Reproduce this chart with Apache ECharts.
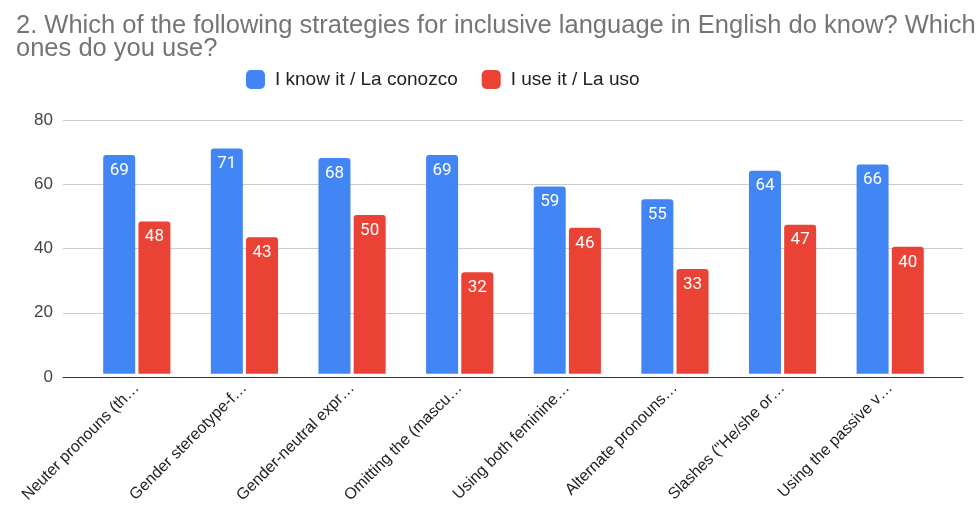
<!DOCTYPE html>
<html>
<head>
<meta charset="utf-8">
<script src="https://cdn.jsdelivr.net/npm/echarts@6/dist/echarts.min.js"></script>
<style>
  html, body { margin: 0; padding: 0; background: #fff; }
  #chart { width: 980px; height: 506px; }
</style>
</head>
<body>
<div id="chart"></div>
<script>
// Survey answers: which inclusive-language strategies respondents know and use
const categories = [
  'Neuter pronouns (th…',
  'Gender stereotype-f…',
  'Gender-neutral expr…',
  'Omitting the (mascu…',
  'Using both feminine…',
  'Alternate pronouns…',
  'Slashes ("He/she or…',
  'Using the passive v…'
];
const knowIt = [69, 71, 68, 69, 59, 55, 64, 66];
const useIt = [48, 43, 50, 32, 46, 33, 47, 40];
const yTicks = { min: 0, max: 80, interval: 20 };

const SANS = '"Liberation Sans", Arial, sans-serif';
const ROBOTO = 'Roboto, Arial, sans-serif';
const chart = echarts.init(document.getElementById('chart'));

const barLabel = {
  show: true,
  position: 'insideTop',
  distance: 7,
  color: '#ffffff',
  fontSize: 17,
  fontFamily: ROBOTO
};

chart.setOption({
  animation: false,
  title: {
    text: '2. Which of the following strategies for inclusive language in English do know? Which\nones do you use?',
    left: 11,
    top: 9,
    textStyle: { color: '#757575', fontSize: 25.5, fontWeight: 'normal', fontFamily: SANS, lineHeight: 23 }
  },
  legend: {
    top: 65,
    left: 241,
    itemWidth: 19,
    itemHeight: 19,
    itemGap: 24,
    textStyle: { color: '#222', fontSize: 19, fontFamily: SANS, padding: [0, 0, 0, 5] },
    data: [
      { name: 'I know it / La conozco', icon: 'roundRect' },
      { name: 'I use it / La uso', icon: 'roundRect' }
    ]
  },
  grid: [
    // wide frame for gridlines and the baseline
    { left: 63, right: 17, top: 120, bottom: 129 },
    // inner band holding the bars
    { left: 83, right: 36, top: 120, bottom: 129 }
  ],
  xAxis: [
    {
      gridIndex: 0, type: 'value', min: 0, max: 1,
      axisLine: { show: true, onZero: false, lineStyle: { color: '#333', width: 1 } },
      axisTick: { show: false }, axisLabel: { show: false }, splitLine: { show: false }
    },
    {
      gridIndex: 1, type: 'category', data: categories,
      axisLine: { show: false }, axisTick: { show: false },
      axisLabel: {
        rotate: 45, margin: 12, interval: 0,
        color: '#222', fontSize: 16, fontFamily: SANS
      }
    }
  ],
  yAxis: [
    {
      gridIndex: 0, type: 'value', min: yTicks.min, max: yTicks.max, interval: yTicks.interval,
      axisLine: { show: false }, axisTick: { show: false },
      axisLabel: { color: '#444', fontSize: 17, fontFamily: SANS, margin: 10 },
      splitLine: { lineStyle: { color: '#cccccc', width: 1 } }
    },
    {
      gridIndex: 1, type: 'value', min: yTicks.min, max: yTicks.max, interval: yTicks.interval,
      axisLine: { show: false }, axisTick: { show: false },
      axisLabel: { show: false }, splitLine: { show: false }
    }
  ],
  series: [
    {
      name: 'I know it / La conozco', type: 'bar', xAxisIndex: 1, yAxisIndex: 1,
      data: knowIt, barWidth: 32, barGap: '10%',
      itemStyle: { color: '#4285F4', borderRadius: [3, 3, 0, 0] },
      label: barLabel
    },
    {
      name: 'I use it / La uso', type: 'bar', xAxisIndex: 1, yAxisIndex: 1,
      data: useIt, barWidth: 32, barGap: '10%',
      itemStyle: { color: '#EA4335', borderRadius: [3, 3, 0, 0] },
      label: barLabel
    }
  ]
});
</script>
</body>
</html>
